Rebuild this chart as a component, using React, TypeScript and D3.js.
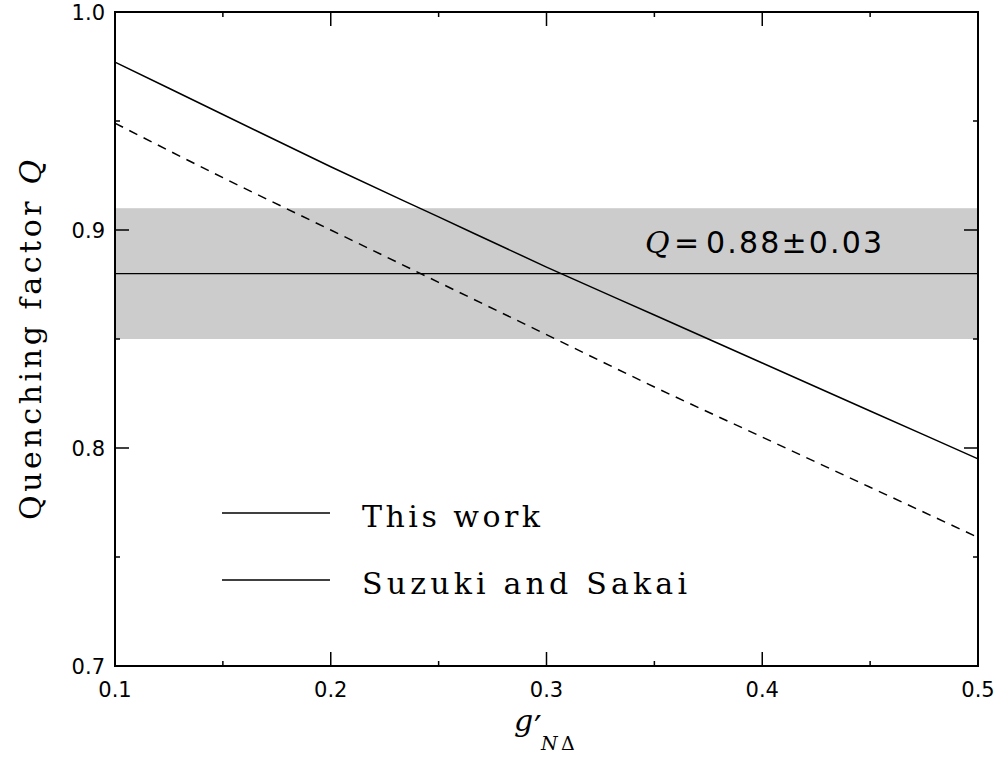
import * as d3 from "d3";

// g'_{NΔ} values where the curves were read
const gValues = [0.1, 0.15, 0.2, 0.25, 0.3, 0.35, 0.4, 0.45, 0.5];
// Quenching factor, this work (solid)
const thisWork = [0.977, 0.953, 0.929, 0.906, 0.883, 0.861, 0.839, 0.817, 0.795];
// Quenching factor, Suzuki and Sakai (dashed)
const suzukiSakai = [0.949, 0.924, 0.900, 0.876, 0.852, 0.828, 0.805, 0.782, 0.759];

// experimental band Q = 0.88 ± 0.03
const qCentral = 0.88;
const qError = 0.03;

const xMajor = [0.1, 0.2, 0.3, 0.4, 0.5];
const xMinor = [0.15, 0.25, 0.35, 0.45];
const yMajor = [0.7, 0.8, 0.9, 1.0];
const yMinor = [0.75, 0.85, 0.95];

const legendItems = ["This work", "Suzuki and Sakai"];
const legendWidths = [178, 325];

const W = 1003;
const H = 759;
const left = 115, right = 978, top = 12, bottom = 666;

const serif = "'DejaVu Serif', 'Liberation Serif', serif";
const sans = "'DejaVu Sans', 'Liberation Sans', sans-serif";

export default function App() {
    const x = d3.scaleLinear().domain([0.1, 0.5]).range([left, right]);
    const y = d3.scaleLinear().domain([0.7, 1.0]).range([bottom, top]);

    const line = d3.line<number>()
        .x((d, i) => x(gValues[i]))
        .y((d) => y(d))
        .curve(d3.curveMonotoneX);

    const majorLen = 14;
    const minorLen = 5;

    return (
        <svg width={W} height={H} style={{ position: "absolute", left: 0, top: 0, background: "#fff" }}>
            {/* shaded band */}
            <rect x={left} y={y(qCentral + qError)} width={right - left}
                height={y(qCentral - qError) - y(qCentral + qError)} fill="#cccccc" />
            <line x1={left} x2={right} y1={y(qCentral)} y2={y(qCentral)} stroke="#000" strokeWidth={1.3} />

            {/* curves */}
            <path d={line(thisWork) ?? ""} fill="none" stroke="#000" strokeWidth={1.5} />
            <path d={line(suzukiSakai) ?? ""} fill="none" stroke="#000" strokeWidth={1.5} strokeDasharray="9,7" />

            {/* ticks, all four sides, pointing inward */}
            <g stroke="#000" strokeWidth={1.5}>
                {xMajor.map((v) => (
                    <g key={"xm" + v}>
                        <line x1={x(v)} x2={x(v)} y1={bottom} y2={bottom - majorLen} />
                        <line x1={x(v)} x2={x(v)} y1={top} y2={top + majorLen} />
                    </g>
                ))}
                {xMinor.map((v) => (
                    <g key={"xn" + v}>
                        <line x1={x(v)} x2={x(v)} y1={bottom} y2={bottom - minorLen} />
                        <line x1={x(v)} x2={x(v)} y1={top} y2={top + minorLen} />
                    </g>
                ))}
                {yMajor.map((v) => (
                    <g key={"ym" + v}>
                        <line x1={left} x2={left + majorLen} y1={y(v)} y2={y(v)} />
                        <line x1={right} x2={right - majorLen} y1={y(v)} y2={y(v)} />
                    </g>
                ))}
                {yMinor.map((v) => (
                    <g key={"yn" + v}>
                        <line x1={left} x2={left + minorLen} y1={y(v)} y2={y(v)} />
                        <line x1={right} x2={right - minorLen} y1={y(v)} y2={y(v)} />
                    </g>
                ))}
            </g>

            {/* frame */}
            <rect x={left} y={top} width={right - left} height={bottom - top} fill="none" stroke="#000" strokeWidth={2} />

            {/* tick labels */}
            <g fontFamily={sans} fontSize={21} fill="#000">
                {xMajor.map((v) => (
                    <text key={"xl" + v} x={x(v)} y={bottom + 31} textAnchor="middle">{d3.format(".1f")(v)}</text>
                ))}
                {yMajor.map((v) => (
                    <text key={"yl" + v} x={left - 10} y={y(v) + 8} textAnchor="end">{d3.format(".1f")(v)}</text>
                ))}
            </g>

            {/* y axis title */}
            <text transform={`translate(41, 340) rotate(-90)`} textAnchor="middle" fontFamily={serif} fontSize={30} fill="#000"
                textLength={360} lengthAdjust="spacing">
                Quenching factor <tspan fontStyle="italic">Q</tspan>
            </text>

            {/* x axis title: g'_{NΔ} */}
            <g fontFamily={serif} fill="#000">
                <text x={514} y={731} fontSize={30} fontStyle="italic">g</text>
                <text x={534} y={740} fontSize={34}>′</text>
                <text x={541} y={750} fontSize={19} fontStyle="italic">N</text>
                <text x={561} y={750} fontSize={19}>Δ</text>
            </g>

            {/* band annotation */}
            <g fill="#000" fontSize={30}>
                <text x={645} y={253} fontFamily={serif} fontStyle="italic">Q</text>
                <text x={674} y={253} fontFamily={sans}>=</text>
                <text x={706} y={253} fontFamily={sans} textLength={176} lengthAdjust="spacing">0.88±0.03</text>
            </g>

            {/* legend */}
            {legendItems.map((label, i) => (
                <g key={label} transform={`translate(0, ${513 + i * 67})`}>
                    <line x1={222} x2={330} y1={0} y2={0} stroke="#000" strokeWidth={1.5} />
                    <text x={362} y={14} fontFamily={serif} fontSize={30} fill="#000"
                        textLength={legendWidths[i]} lengthAdjust="spacing">{label}</text>
                </g>
            ))}
        </svg>
    );
}
